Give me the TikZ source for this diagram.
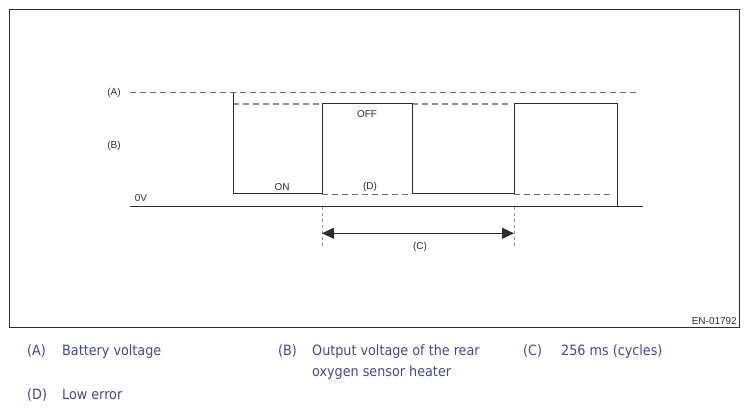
\documentclass[tikz,border=0pt]{standalone}
\usepackage{fontspec}
\setmainfont{Liberation Sans}
\newfontfamily\legendfont{DejaVu Sans Condensed}
\usetikzlibrary{arrows.meta}
\definecolor{legendblue}{RGB}{68,68,155}
\definecolor{wavegrey}{RGB}{45,45,45}
\definecolor{dashgrey}{RGB}{110,110,110}
\definecolor{levelgrey}{RGB}{145,145,145}
\begin{document}
\begin{tikzpicture}[x=1pt,y=1pt]
\tikzstyle{every node}+=[inner sep=0pt,font=\fontsize{10}{11}\selectfont,text=wavegrey]
\tikzstyle{wave}=[wavegrey,line width=1pt]
\tikzstyle{supply}=[dashgrey,line width=0.9pt,dash pattern=on 6pt off 4pt]
\tikzstyle{output}=[levelgrey,line width=1.6pt,dash pattern=on 6pt off 4pt]
\tikzstyle{lowlevel}=[dashgrey,line width=0.8pt,dash pattern=on 6pt off 4pt]
\tikzstyle{marker}=[levelgrey,line width=0.8pt,dash pattern=on 3pt off 3pt]
\tikzstyle{legend}=[anchor=base west,text=legendblue,font=\legendfont\fontsize{14.2}{16}\selectfont]
\useasboundingbox (0,0) rectangle (749,-411);
\draw [wavegrey,line width=1pt] (9.5,-9.5) rectangle (739.5,-327.5);
% levels
\draw [supply] (130,-92.7) -- (637,-92.7);
\draw [output] (233,-104.3) -- (322,-104.3);
\draw [output] (412,-104.3) -- (510,-104.3);
\draw [lowlevel] (322,-194) -- (412,-194);
\draw [lowlevel] (514,-194) -- (612,-194);
% signal
\draw [wave] (130,-207) -- (643,-207);
\draw [wave] (233,-92.7) -- (233,-194) -- (322,-194) -- (322,-104) -- (412,-104) -- (412,-194) -- (514,-194) -- (514,-104) -- (617,-104) -- (617,-207);
% cycle
\coordinate (cyclestart) at (322,-233.3);
\coordinate (cycleend) at (514,-233.3);
\draw [marker] (322,-207) -- (322,-246);
\draw [marker] (514,-207) -- (514,-246);
\draw [wave,{Triangle[length=12pt,width=11pt]}-{Triangle[length=12pt,width=11pt]}] (cyclestart) -- (cycleend);
% labels
\node (lbla) at (114,-92.5) {(A)};
\node (lblb) at (114,-146) {(B)};
\node (lblzero) at (141,-198.5) {0V};
\node (lblon) at (282,-187) {ON};
\node (lbloff) at (367,-114) {OFF};
\node (lbld) at (370,-187) {(D)};
\node (lblc) at (420,-247) {(C)};
\node [anchor=east] (figno) at (737,-321) {EN-01792};
% legend
\node [legend] (keya) at (27,-355) {(A)};
\node [legend] (texta) at (62,-355) {Battery voltage};
\node [legend] (keyb) at (278,-355) {(B)};
\node [legend] (textb) at (312,-355) {Output voltage of the rear};
\node [legend] (textbb) at (312,-376) {oxygen sensor heater};
\node [legend] (keyc) at (523,-355) {(C)};
\node [legend] (textc) at (561,-355) {256 ms (cycles)};
\node [legend] (keyd) at (27,-399) {(D)};
\node [legend] (textd) at (62,-399) {Low error};
\end{tikzpicture}
\end{document}
